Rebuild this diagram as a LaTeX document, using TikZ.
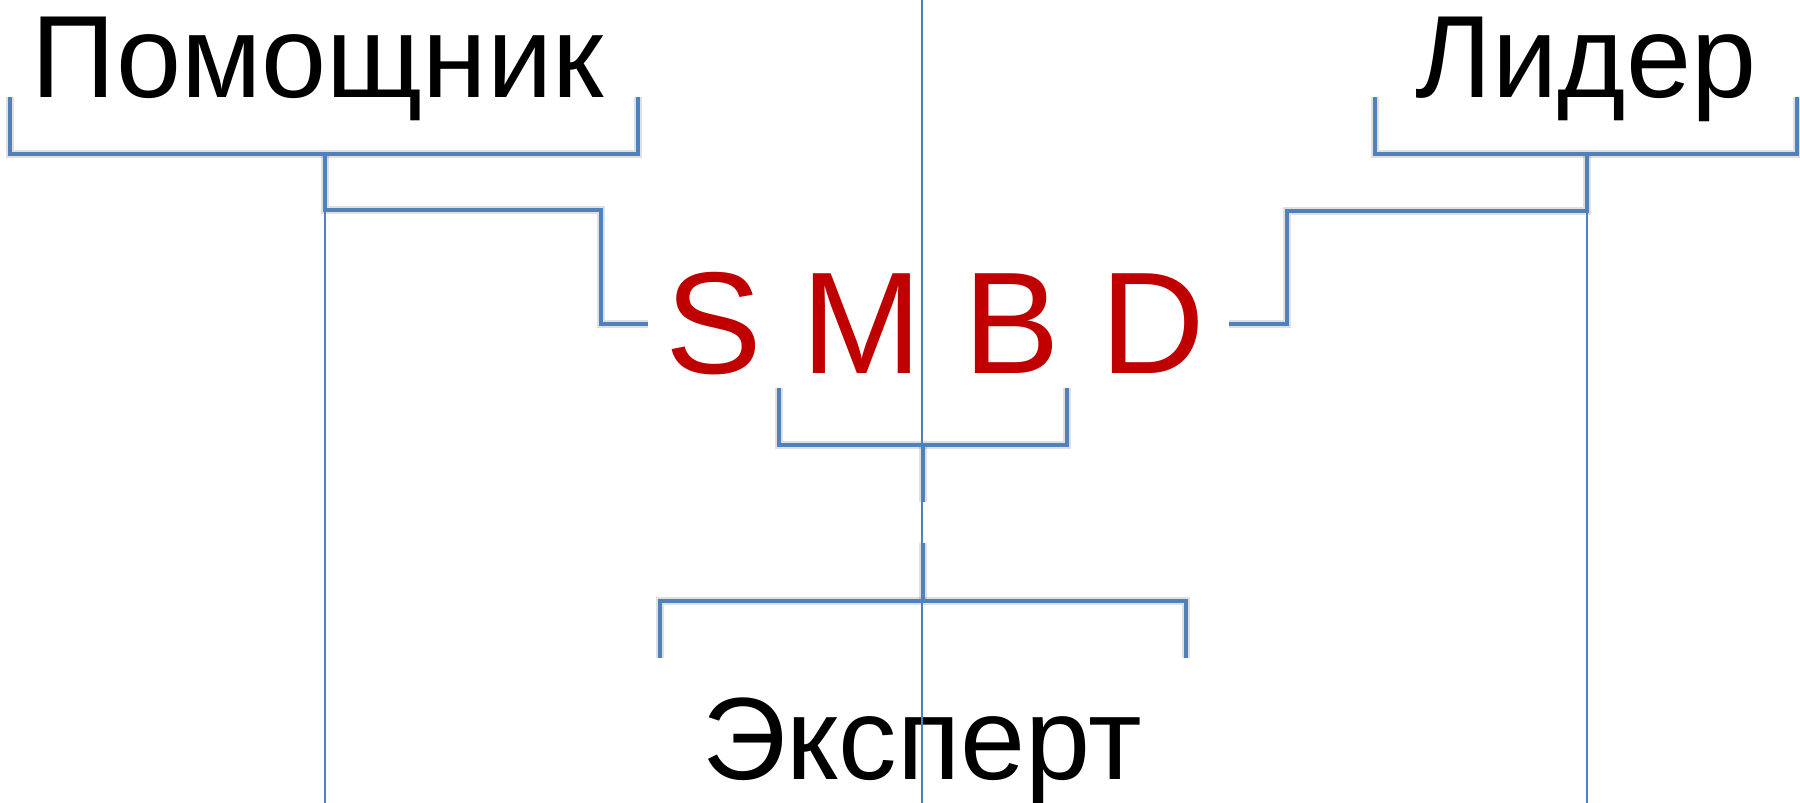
\documentclass[tikz,border=0pt]{standalone}
\usepackage{fontspec}
\setmainfont{Liberation Sans}
\definecolor{lineblue}{HTML}{4F81BD}
\definecolor{smbdred}{HTML}{C00000}
\begin{document}
\begin{tikzpicture}[x=0.5pt,y=-0.5pt,
  bracket/.style={draw=lineblue, line width=2.25pt},
  thinline/.style={draw=lineblue, line width=1.45pt},
  shade/.style={draw=black, opacity=0.12, line width=4pt, shift={(3,3)}},
  role/.style={font=\fontsize{58.5}{60}\selectfont, inner sep=0pt, anchor=base},
  letters/.style={font=\fontsize{72.5}{75}\selectfont, text=smbdred, inner sep=0pt, anchor=base}]
\useasboundingbox (0,0) rectangle (1800,803);
% text nodes
\node[role] (pom) at (318,97) {Помощник};
\node[role] (lid) at (1586,97) {Лидер};
\node[role] (exp) at (922,779) {Эксперт};
\node[letters] (smbd) at (935,373) {S M B D};
% coordinates
\coordinate (pL1) at (10,97);   \coordinate (pL2) at (10,154);
\coordinate (pR2) at (638,154); \coordinate (pR1) at (638,97);
\coordinate (pS0) at (325,154); \coordinate (pS1) at (325,210);
\coordinate (pS2) at (601,210); \coordinate (pS3) at (601,324);
\coordinate (pS4) at (648,324);
\coordinate (lL1) at (1375,97);  \coordinate (lL2) at (1375,154);
\coordinate (lR2) at (1797,154); \coordinate (lR1) at (1797,97);
\coordinate (lS0) at (1587,154); \coordinate (lS1) at (1587,211);
\coordinate (lS2) at (1287,211); \coordinate (lS3) at (1287,324);
\coordinate (lS4) at (1229,324);
\coordinate (sL1) at (779,388);  \coordinate (sL2) at (779,445);
\coordinate (sR2) at (1067,445); \coordinate (sR1) at (1067,388);
\coordinate (sS0) at (923,445);  \coordinate (sS1) at (923,502);
\coordinate (eL1) at (660,658);  \coordinate (eL2) at (660,601);
\coordinate (eR2) at (1186,601); \coordinate (eR1) at (1186,658);
\coordinate (eS0) at (923,543);  \coordinate (eS1) at (923,601);
\coordinate (cTop) at (922,0);   \coordinate (cBot) at (922,803);
\coordinate (pBot) at (325,803); \coordinate (lBot) at (1587,803);
% shadows
\foreach \p in {{(pL1) -- (pL2) -- (pR2) -- (pR1)},
                {(pS0) -- (pS1) -- (pS2) -- (pS3) -- (pS4)},
                {(lL1) -- (lL2) -- (lR2) -- (lR1)},
                {(lS0) -- (lS1) -- (lS2) -- (lS3) -- (lS4)},
                {(sL1) -- (sL2) -- (sR2) -- (sR1)},
                {(sS0) -- (sS1)},
                {(eL1) -- (eL2) -- (eR2) -- (eR1)},
                {(eS0) -- (eS1)}}
  {\draw[shade] \p;}
% thin lines
\draw[thinline] (cTop) -- (cBot);
\draw[thinline] (pS0) -- (pBot);
\draw[thinline] (lS0) -- (lBot);
% brackets
\draw[bracket] (pL1) -- (pL2) -- (pR2) -- (pR1);
\draw[bracket] (pS0) -- (pS1) -- (pS2) -- (pS3) -- (pS4);
\draw[bracket] (lL1) -- (lL2) -- (lR2) -- (lR1);
\draw[bracket] (lS0) -- (lS1) -- (lS2) -- (lS3) -- (lS4);
\draw[bracket] (sL1) -- (sL2) -- (sR2) -- (sR1);
\draw[bracket] (sS0) -- (sS1);
\draw[bracket] (eL1) -- (eL2) -- (eR2) -- (eR1);
\draw[bracket] (eS0) -- (eS1);
\end{tikzpicture}
\end{document}
